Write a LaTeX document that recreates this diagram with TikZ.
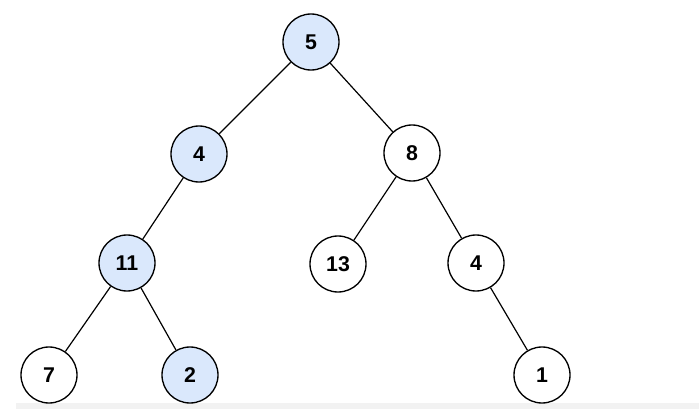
\documentclass[tikz,border=0pt]{standalone}
\usepackage{fontspec}
\setmainfont{Liberation Sans}
\usetikzlibrary{positioning}
\definecolor{NodeBlue}{HTML}{DAE8FC}
\definecolor{BandGray}{HTML}{F2F2F2}
\tikzset{
  % nodi dell'albero
  tnode/.style={circle,draw=black,line width=1pt,minimum size=42pt,inner sep=0pt,
    font=\fontsize{16}{18}\selectfont\bfseries,fill=white},
  tnode path/.style={tnode,fill=NodeBlue},
  % rami
  branch/.style={black,line width=0.9pt}
}
\begin{document}
\begin{tikzpicture}[x=0.75pt,y=-0.75pt]
    \useasboundingbox (0,0) rectangle (699,409);
    \fill[BandGray] (16,403) rectangle (699,409);
    % livelli dell'albero
    \node[tnode path] (n5) at (311,42) {5};
    \node[tnode path] (n4l) at (199,154) {4};
    \node[tnode] (n8) at (412,153) {8};
    \node[tnode path] (n11) at (127,263) {11};
    \node[tnode] (n13) at (338,264) {13};
    \node[tnode] (n4r) at (476,263) {4};
    \node[tnode] (n7) at (49,375) {7};
    \node[tnode path] (n2) at (190,375) {2};
    \node[tnode] (n1) at (542,375) {1};
    % rami
    \draw[branch] (n5) -- (n4l);
    \draw[branch] (n5) -- (n8);
    \draw[branch] (n4l) -- (n11);
    \draw[branch] (n11) -- (n7);
    \draw[branch] (n11) -- (n2);
    \draw[branch] (n8) -- (n13);
    \draw[branch] (n8) -- (n4r);
    \draw[branch] (n4r) -- (n1);
\end{tikzpicture}
\end{document}
